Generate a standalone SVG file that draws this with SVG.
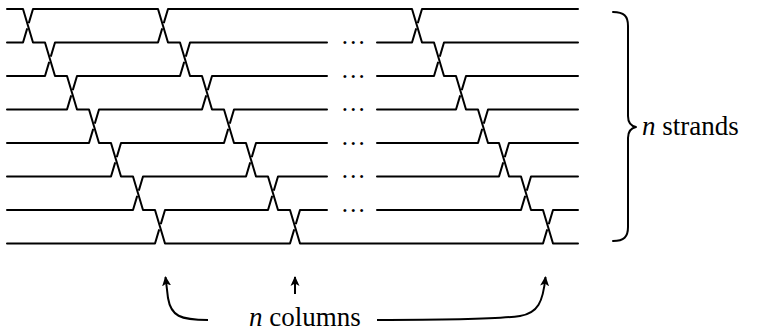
<svg xmlns="http://www.w3.org/2000/svg" width="760" height="332" viewBox="0 0 760 332">
<style>
.s{fill:none;stroke:#000;stroke-width:2;stroke-linecap:round;stroke-linejoin:round}
.a{fill:none;stroke:#000;stroke-width:2;stroke-linecap:butt}
.t{font-family:"Liberation Serif","Times New Roman",serif;font-size:27px;fill:#000}
.d{font-family:"Liberation Serif","Times New Roman",serif;font-size:25px;fill:#000;text-anchor:middle}
</style>
<defs>
<marker id="ah" markerUnits="userSpaceOnUse" markerWidth="10" markerHeight="10" refX="9" refY="5" orient="auto">
<path d="M0,0.5 L10,5 L0,9.5 L2.5,5 z" fill="#000"/>
</marker>
</defs>
<rect width="760" height="332" fill="#fff"/>
<g id="connectors">
<g id="strands">
<path class="s" d="M7,9 H23 L33,42.5 H45 L55,76 H67 L77,109.5 H89 L99,143 H111 L121,176.5 H133 L143,210 H155 L165,243.5 H290 l4,-13.4"/>
<path class="s" d="M29,22.4 L33,9 H158 L168,42.5 H180 L190,76 H202 L212,109.5 H224 L234,143 H246 L256,176.5 H268 L278,210 H290 L300,243.5 H543 l4,-13.4"/>
<path class="s" d="M164,22.4 L168,9 H412 L422,42.5 H434 L444,76 H456 L466,109.5 H478 L488,143 H499 L509,176.5 H521 L531,210 H543 L553,243.5 H578"/>
<path class="s" d="M418,22.4 L422,9 H578"/>
<path class="s" d="M7,243.5 H155 l4,-13.4"/>
<path class="s" d="M7,42.5 H23 l4,-13.4 M51,55.9 L55,42.5 H158 l4,-13.4 M186,55.9 L190,42.5 H327 M377,42.5 H412 l4,-13.4 M440,55.9 L444,42.5 H578"/>
<path class="s" d="M7,76 H45 l4,-13.4 M73,89.4 L77,76 H180 l4,-13.4 M208,89.4 L212,76 H327 M377,76 H434 l4,-13.4 M462,89.4 L466,76 H578"/>
<path class="s" d="M7,109.5 H67 l4,-13.4 M95,122.9 L99,109.5 H202 l4,-13.4 M230,122.9 L234,109.5 H327 M377,109.5 H456 l4,-13.4 M484,122.9 L488,109.5 H578"/>
<path class="s" d="M7,143 H89 l4,-13.4 M117,156.4 L121,143 H224 l4,-13.4 M252,156.4 L256,143 H327 M377,143 H478 l4,-13.4 M505,156.4 L509,143 H578"/>
<path class="s" d="M7,176.5 H111 l4,-13.4 M139,189.9 L143,176.5 H246 l4,-13.4 M274,189.9 L278,176.5 H327 M377,176.5 H499 l4,-13.4 M527,189.9 L531,176.5 H578"/>
<path class="s" d="M7,210 H133 l4,-13.4 M161,223.4 L165,210 H268 l4,-13.4 M296,223.4 L300,210 H327 M377,210 H521 l4,-13.4 M549,223.4 L553,210 H578"/>
</g>
<g id="arrows">
<path class="a" d="M208,320 C180,320 171,316 168,298 L165.5,277" marker-end="url(#ah)"/>
<path class="a" d="M295,294 V277" marker-end="url(#ah)"/>
<path class="a" d="M377,320 C450,320 500,319 520,316 C538,313 543,302 545.5,277" marker-end="url(#ah)"/>
</g>
</g>
<g id="dots">
<text class="d" x="353.3" y="44">…</text>
<text class="d" x="353.3" y="77.5">…</text>
<text class="d" x="353.3" y="111">…</text>
<text class="d" x="353.3" y="144.5">…</text>
<text class="d" x="353.3" y="178">…</text>
<text class="d" x="353.3" y="211.5">…</text>
</g>
<g id="brace">
<path class="s" d="M613,12 C624,12 628,16 628,26 V116 C628,123 631,126 636,127 C631,128 628,131 628,138 V227 C628,237 624,241 613,241"/>
</g>
<g id="labels">
<text class="t" x="642" y="135"><tspan font-style="italic">n</tspan> strands</text>
<text class="t" x="249" y="326"><tspan font-style="italic">n</tspan> columns</text>
</g>
</svg>
